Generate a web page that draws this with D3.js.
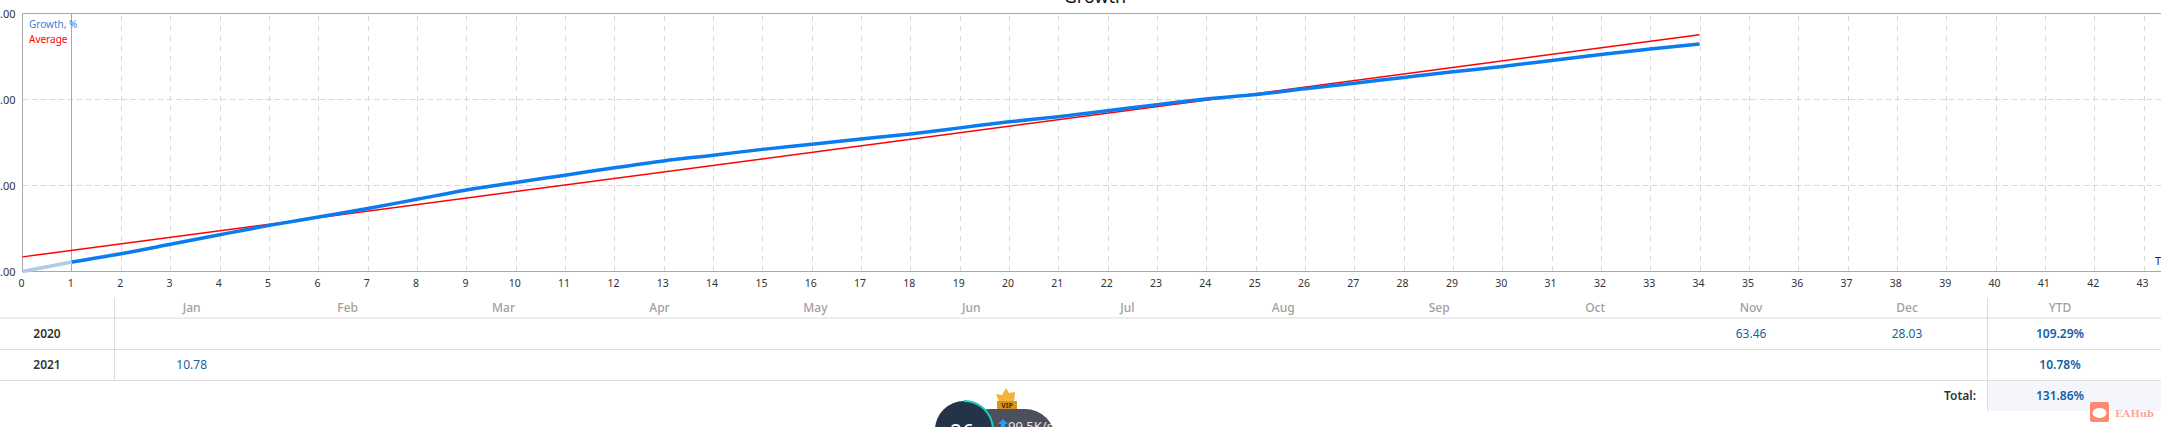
<!DOCTYPE html>
<html><head><meta charset="utf-8">
<script src="https://cdn.jsdelivr.net/npm/d3@7"></script>
<style>html,body{margin:0;padding:0;background:#fff;overflow:hidden}svg{display:block}text{font-family:"Noto Sans",sans-serif}</style>
</head><body><svg id="c" width="2161" height="427"></svg>
<script>
const trades=d3.range(0,44);
const yTicks=[0,50,100,150];
const growth=[0,5.5,10.3,15.8,21.4,26.8,31.7,36.6,42,47.4,51.8,56,60.3,64.3,67.6,71,74,77,80,83.5,87,90,93.5,97,100.3,102.9,106.2,109.5,112.8,116.1,119.2,122.7,126.2,129.4,132.3];
const average=[[0,8.5],[34,137.6]];
const months=["Jan","Feb","Mar","Apr","May","Jun","Jul","Aug","Sep","Oct","Nov","Dec"];
const years=["2020","2021"];
const monthly2020=[null,null,null,null,null,null,null,null,null,null,"63.46","28.03"];
const monthly2021=["10.78",null,null,null,null,null,null,null,null,null,null,null];
const ytd=["109.29%","10.78%"];
const total="131.86%";

const svg=d3.select("#c");
const x=d3.scaleLinear().domain([0,43]).range([22.5,2143.5]);
const y=d3.scaleLinear().domain([0,150]).range([271.5,13.5]);
const W=2161;
svg.append("text").attr("x",1095).attr("y",3).attr("text-anchor","middle").attr("font-size",18).attr("fill","#111").text("Growth");
svg.append("g").selectAll("line").data(trades.slice(2)).join("line")
 .attr("x1",d=>Math.round(x(d))+.5).attr("x2",d=>Math.round(x(d))+.5).attr("y1",16).attr("y2",271)
 .attr("stroke","#d8d8d8").attr("stroke-dasharray","5 5");
svg.append("g").selectAll("line").data(yTicks.slice(1,3)).join("line")
 .attr("x1",22.5).attr("x2",W).attr("y1",d=>Math.round(y(d))-.5).attr("y2",d=>Math.round(y(d))-.5)
 .attr("stroke","#d8d8d8").attr("stroke-dasharray","6 3");
const fr=svg.append("g").attr("stroke","#a9a9a9").attr("fill","none");
fr.append("line").attr("x1",22.5).attr("x2",W).attr("y1",13.5).attr("y2",13.5);
fr.append("line").attr("x1",22.5).attr("x2",W).attr("y1",271.5).attr("y2",271.5);
fr.append("line").attr("x1",22.5).attr("x2",22.5).attr("y1",13.5).attr("y2",271.5);
fr.append("line").attr("x1",71.5).attr("x2",71.5).attr("y1",13.5).attr("y2",271.5);
svg.append("g").selectAll("text").data(yTicks).join("text")
 .attr("x",15.5).attr("y",d=>y(d)+4).attr("text-anchor","end").attr("font-size",11).attr("fill","#333")
 .text(d=>d3.format(".2f")(d));
svg.append("g").selectAll("text").data(trades).join("text")
 .attr("x",d=>x(d)-1).attr("y",287).attr("text-anchor","middle").attr("font-size",10.5).attr("fill","#333")
 .text(d=>d);
svg.append("text").attr("x",2155).attr("y",265).attr("font-size",11).attr("fill","#222").text("Trades");
const line=d3.line().curve(d3.curveMonotoneX).x(d=>x(d[0])).y(d=>y(d[1]));
const g=growth.map((v,i)=>[i,v]);
svg.append("path").attr("d",line(g.slice(0,2))).attr("fill","none").attr("stroke","#aecbe8").attr("stroke-width",3.5);
svg.append("path").attr("d",line(average)).attr("fill","none").attr("stroke","#ff0000").attr("stroke-width",1.5);
svg.append("path").attr("d",line(g.slice(1))).attr("fill","none").attr("stroke","#0a7cf0").attr("stroke-width",3.5);
svg.append("text").attr("x",29).attr("y",28).attr("font-size",10).attr("fill","#3a7fdc").text("Growth, %");
svg.append("text").attr("x",29).attr("y",43).attr("font-size",10).attr("fill","#ff0000").text("Average");
const T=svg.append("g");
const rowLines=[318,349.5,380.5];
T.selectAll("line.r").data(rowLines).join("line").attr("class","r").attr("x1",0).attr("x2",W)
 .attr("y1",d=>d).attr("y2",d=>d).attr("stroke","#dcdcdc");
T.append("rect").attr("x",1987).attr("y",381).attr("width",174).attr("height",30).attr("fill","#f4f6fc");
T.append("line").attr("x1",114.5).attr("x2",114.5).attr("y1",298).attr("y2",380).attr("stroke","#dcdcdc");
T.append("line").attr("x1",1987.5).attr("x2",1987.5).attr("y1",298).attr("y2",411).attr("stroke","#dcdcdc");
const mx=d3.scalePoint().domain(months).range([191.7,1907]);
T.selectAll("text.m").data(months).join("text").attr("class","m").attr("x",d=>mx(d)).attr("y",312)
 .attr("text-anchor","middle").attr("font-size",12).attr("font-weight",500).attr("fill","#a0a0a0").text(d=>d);
T.append("text").attr("x",2060).attr("y",312).attr("text-anchor","middle").attr("font-size",12).attr("font-weight",500).attr("fill","#a0a0a0").text("YTD");
const rowY=[338,369];
years.forEach((yr,i)=>{
 T.append("text").attr("x",47).attr("y",rowY[i]).attr("text-anchor","middle").attr("font-size",12).attr("font-weight",600).attr("fill","#333").text(yr);
 const vals=[monthly2020,monthly2021][i];
 T.append("g").selectAll("text").data(months.map((m,j)=>[m,vals[j]]).filter(d=>d[1])).join("text")
  .attr("x",d=>mx(d[0])).attr("y",rowY[i]).attr("text-anchor","middle").attr("font-size",12).attr("fill","#1a5f9e").text(d=>d[1]);
 T.append("text").attr("x",2060).attr("y",rowY[i]).attr("text-anchor","middle").attr("font-size",12).attr("font-weight",600).attr("fill","#0d5fa6").text(ytd[i]);
});
T.append("text").attr("x",1976).attr("y",400).attr("text-anchor","end").attr("font-size",12).attr("font-weight",600).attr("fill","#333").text("Total:");
T.append("text").attr("x",2060).attr("y",400).attr("text-anchor","middle").attr("font-size",12).attr("font-weight",600).attr("fill","#0d5fa6").text(total);
const O=svg.append("g");
O.append("rect").attr("x",960).attr("y",409).attr("width",95).attr("height",70).attr("rx",30).attr("fill","#4b505c");
O.append("circle").attr("cx",964).attr("cy",430).attr("r",29).attr("fill","#233447");
O.append("path").attr("d",d3.arc()({innerRadius:28,outerRadius:30,startAngle:0,endAngle:1.9})).attr("transform","translate(964,430)").attr("fill","#20c8c0");
O.append("text").attr("x",962).attr("y",440).attr("text-anchor","middle").attr("font-size",21).attr("fill","#fff").text("26");
O.append("path").attr("d","M1001 428 l0 -4 l-3 0 l5 -5 l5 5 l-3 0 l0 4 z").attr("fill","#2a9df4");
O.append("text").attr("x",1008).attr("y",431).attr("font-size",13).attr("fill","#e6e6e6").text("99.5K/s");
O.append("path").attr("d","M999 402 l-3 -8 l6 1 l4 -7 l3 5 l6 -1 l-1 10 z").attr("fill","#f2b53a");
O.append("rect").attr("x",997).attr("y",401).attr("width",20).attr("height",8).attr("fill","#d9941f");
O.append("text").attr("x",1007).attr("y",408).attr("text-anchor","middle").attr("font-size",7).attr("font-weight",700).attr("fill","#4a2c00").text("VIP");
const M=svg.append("g");
M.append("rect").attr("x",2090).attr("y",402).attr("width",19).attr("height",20).attr("rx",2).attr("fill","#fb8a70");
M.append("ellipse").attr("cx",2099.5).attr("cy",413).attr("rx",7).attr("ry",5).attr("fill","#fff");
M.append("text").attr("x",2115).attr("y",417).attr("style","font-family:'DejaVu Serif'").attr("font-size",10).attr("font-weight",700).attr("fill","#fba898").text("EAHub");
</script></body></html>
